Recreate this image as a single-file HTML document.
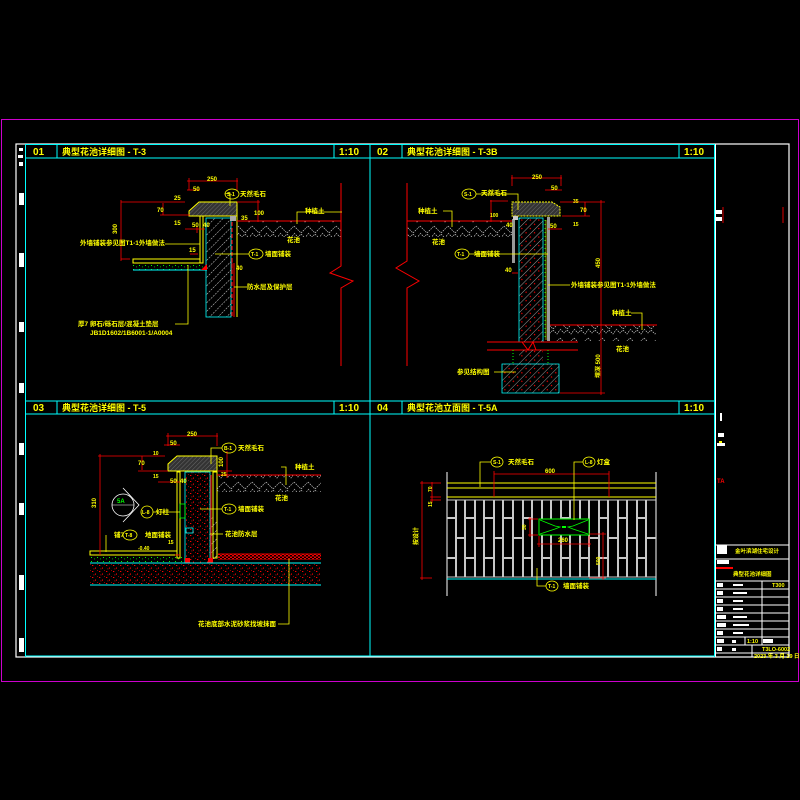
<!DOCTYPE html>
<html><head><meta charset="utf-8">
<style>
html,body{margin:0;padding:0;background:#000;}
svg{display:block;}
text{font-family:"Liberation Sans","Noto Sans CJK SC",sans-serif;font-weight:bold;}
</style></head>
<body>
<svg width="800" height="800" viewBox="0 0 800 800" xmlns="http://www.w3.org/2000/svg">
<defs>
<pattern id="hw" width="6" height="6" patternUnits="userSpaceOnUse" patternTransform="rotate(45)">
<line x1="0" y1="0" x2="0" y2="6" stroke="#fff" stroke-width="0.8" stroke-dasharray="2,1"/></pattern>
<pattern id="hr" width="6" height="6" patternUnits="userSpaceOnUse" patternTransform="rotate(45)">
<line x1="0" y1="0" x2="0" y2="6" stroke="#ddd" stroke-width="0.7"/><rect x="2" y="2" width="1.2" height="1.2" fill="#f00"/></pattern>
<pattern id="hg" width="3" height="3" patternUnits="userSpaceOnUse" patternTransform="rotate(45)">
<rect width="3" height="3" fill="#333"/><line x1="0" y1="0" x2="0" y2="3" stroke="#777" stroke-width="0.8"/></pattern>
<pattern id="soil" width="14" height="16" patternUnits="userSpaceOnUse">
<polyline points="0,2 7,9 14,2" fill="none" stroke="#ccc" stroke-width="0.7" stroke-dasharray="1.5,1"/>
<polyline points="0,9 4,13 7,10 11,14 14,10" fill="none" stroke="#ccc" stroke-width="0.7" stroke-dasharray="1.5,1"/></pattern>
<pattern id="rd" width="7" height="6" patternUnits="userSpaceOnUse">
<rect x="1" y="1" width="1.3" height="1" fill="#f00"/><rect x="4" y="3.5" width="1" height="1.2" fill="#f00"/><rect x="6" y="0" width="0.8" height="0.8" fill="#d00"/><rect x="2.5" y="4.5" width="0.8" height="0.8" fill="#f22"/></pattern>
<pattern id="rd2" width="4" height="3" patternUnits="userSpaceOnUse">
<rect x="0" y="0" width="2" height="1.5" fill="#e00"/><rect x="2" y="1.5" width="2" height="1.5" fill="#e00"/></pattern>
<pattern id="gd" width="6" height="4" patternUnits="userSpaceOnUse">
<rect x="1" y="1" width="1" height="1" fill="#0f0"/><rect x="4" y="2.5" width="1" height="0.8" fill="#0c0"/></pattern>
</defs>

<rect x="1.5" y="119.5" width="797" height="562" fill="none" stroke="#c0c" stroke-width="1"/>
<rect x="16" y="144" width="773" height="513" fill="none" stroke="#fff" stroke-width="1.2"/>
<line x1="25.5" y1="144" x2="25.5" y2="657" stroke="#0ff" stroke-width="1"/>
<line x1="714.5" y1="144" x2="714.5" y2="657" stroke="#0ff" stroke-width="1"/>
<line x1="715.5" y1="144" x2="715.5" y2="657" stroke="#fff" stroke-width="1"/>
<line x1="25" y1="656" x2="714" y2="656" stroke="#0ff" stroke-width="1"/>
<line x1="370" y1="144" x2="370" y2="656" stroke="#0ff" stroke-width="1"/>
<g stroke="#0ff" stroke-width="1" fill="none">
<line x1="25" y1="144.5" x2="714" y2="144.5"/><line x1="25" y1="158" x2="714" y2="158"/>
<line x1="25" y1="401" x2="714" y2="401"/><line x1="25" y1="414" x2="714" y2="414"/>
<line x1="57" y1="144" x2="57" y2="158"/><line x1="334" y1="144" x2="334" y2="158"/>
<line x1="402" y1="144" x2="402" y2="158"/><line x1="679" y1="144" x2="679" y2="158"/>
<line x1="57" y1="401" x2="57" y2="414"/><line x1="334" y1="401" x2="334" y2="414"/>
<line x1="402" y1="401" x2="402" y2="414"/><line x1="679" y1="401" x2="679" y2="414"/>
</g>
<g fill="#ff0" font-size="10">
<text x="33" y="155" font-weight="normal">01</text><text x="62" y="155" font-size="9">典型花池详细图 - T-3</text><text x="339" y="155" font-weight="normal">1:10</text>
<text x="377" y="155" font-weight="normal">02</text><text x="407" y="155" font-size="9">典型花池详细图 - T-3B</text><text x="684" y="155" font-weight="normal">1:10</text>
<text x="33" y="411" font-weight="normal">03</text><text x="62" y="411" font-size="9">典型花池详细图 - T-5</text><text x="339" y="411" font-weight="normal">1:10</text>
<text x="377" y="411" font-weight="normal">04</text><text x="407" y="411" font-size="9">典型花池立面图 - T-5A</text><text x="684" y="411" font-weight="normal">1:10</text>
</g>
<g fill="#fff">
<rect x="19" y="148" width="4" height="3"/><rect x="18" y="155" width="5" height="3"/><rect x="19" y="162" width="4" height="4"/>
<rect x="19" y="193" width="5" height="12"/><rect x="19" y="253" width="5" height="14"/><rect x="19" y="322" width="5" height="10"/>
<rect x="19" y="383" width="5" height="10"/><rect x="19" y="443" width="5" height="12"/><rect x="19" y="503" width="5" height="12"/>
<rect x="19" y="575" width="5" height="15"/><rect x="19" y="638" width="5" height="14"/>
</g>

<!-- PANEL 01 -->
<polygon points="189,211 199,202 237,202 237,216 189,216" fill="url(#hg)" stroke="#ff0" stroke-width="1"/>
<rect x="206" y="218" width="25" height="99" fill="url(#hw)" stroke="#0ff" stroke-width="0.8"/>
<line x1="232" y1="222" x2="232" y2="317" stroke="#f00" stroke-width="1.2" stroke-dasharray="4,2"/>
<line x1="237" y1="216" x2="237" y2="317" stroke="#ff0" stroke-width="1"/>
<line x1="234" y1="263" x2="234" y2="317" stroke="#f00" stroke-width="1"/>
<rect x="200" y="216" width="3" height="47" fill="none" stroke="#ff0" stroke-width="1"/>
<rect x="230" y="216" width="6" height="5" fill="#aaa"/>
<rect x="237" y="221" width="104" height="16" fill="url(#soil)"/>
<line x1="237" y1="221" x2="341" y2="221" stroke="#f00" stroke-width="1"/>
<polyline points="341,183 341,266 330,273 353,281 341,288 341,366" fill="none" stroke="#f00" stroke-width="1"/>
<rect x="133" y="259" width="67" height="4" fill="none" stroke="#ff0" stroke-width="1"/>
<rect x="133" y="264" width="72" height="6" fill="url(#gd)"/>
<line x1="133" y1="270" x2="207" y2="270" stroke="#0ff" stroke-width="1"/>
<polygon points="201,270 207,264 207,270" fill="#f00"/>
<g stroke="#f00" stroke-width="0.8" fill="none">
<line x1="187" y1="181" x2="238" y2="181"/><line x1="189" y1="178" x2="189" y2="190"/><line x1="237" y1="178" x2="237" y2="190"/>
<line x1="187" y1="190" x2="200" y2="190"/>
<line x1="121" y1="202" x2="185" y2="202"/><line x1="121" y1="259" x2="130" y2="259"/><line x1="121" y1="200" x2="121" y2="261"/>
<line x1="163" y1="203" x2="163" y2="215"/><line x1="160" y1="215" x2="190" y2="215"/>
<line x1="185" y1="229" x2="205" y2="229"/><line x1="197" y1="227" x2="197" y2="233"/>
<line x1="237" y1="202" x2="260" y2="202"/><line x1="258" y1="200" x2="258" y2="222"/><line x1="238" y1="221" x2="262" y2="221"/>
<line x1="190" y1="254" x2="198" y2="254"/><line x1="232" y1="262" x2="232" y2="270"/>
</g>
<g fill="#ff0" font-size="6">
<text x="207" y="181">250</text><text x="193" y="191">50</text><text x="174" y="200">25</text><text x="157" y="212">70</text><text x="174" y="225">15</text>
<text x="117" y="234" transform="rotate(-90 117 234)">300</text><text x="192" y="227">50</text><text x="203" y="227">40</text>
<text x="254" y="215">100</text><text x="241" y="220">35</text><text x="189" y="252">15</text><text x="236" y="270">40</text>
</g>
<g stroke="#ff0" stroke-width="0.8" fill="none">
<ellipse cx="232" cy="194" rx="7" ry="5"/><polyline points="225,194 230,193 230,206"/>
<polyline points="342,212 297,212 297,224"/>
<polyline points="165,244 200,244"/>
<ellipse cx="256" cy="254" rx="7" ry="5"/><polyline points="249,254 215,254"/>
<polyline points="234,287 247,287"/>
<polyline points="188,265 188,324 175,324"/>
</g>
<g fill="#ff0" font-size="6.5">
<text x="227" y="196" font-size="5">S-1</text><text x="240" y="196">天然毛石</text>
<text x="305" y="213">种植土</text><text x="287" y="242">花池</text>
<text x="80" y="245">外墙铺装参见图T1-1外墙做法</text>
<text x="251" y="256" font-size="5">T-1</text><text x="265" y="256">墙面铺装</text>
<text x="247" y="289">防水层及保护层</text>
<text x="78" y="326">厚7 卵石/砾石层/混凝土垫层</text>
<text x="90" y="335">JB1D1602/1B6001-1/A0004</text>
</g>

<!-- PANEL 02 -->
<polygon points="512,202 552,202 560,207 560,216 512,216" fill="url(#hg)" stroke="#ff0" stroke-width="1" stroke-dasharray="2,1"/>
<rect x="519" y="218" width="24" height="124" fill="url(#hr)" stroke="#0ff" stroke-width="0.8"/>
<rect x="512" y="219" width="3" height="44" fill="#999"/>
<rect x="547" y="217" width="3" height="124" fill="#999"/>
<line x1="545" y1="220" x2="545" y2="340" stroke="#0f0" stroke-width="1" stroke-dasharray="1,3"/>
<line x1="546" y1="220" x2="546" y2="340" stroke="#ff0" stroke-width="0.6"/>
<rect x="513" y="216" width="5" height="4" fill="#ccc"/>
<rect x="407" y="221" width="105" height="16" fill="url(#soil)"/>
<line x1="407" y1="221" x2="512" y2="221" stroke="#f00" stroke-width="1"/>
<rect x="550" y="325" width="106" height="16" fill="url(#soil)"/>
<line x1="550" y1="325" x2="657" y2="325" stroke="#f00" stroke-width="1"/>
<polyline points="407,183 407,261 396,268 419,281 407,288 407,366" fill="none" stroke="#f00" stroke-width="1"/>
<line x1="487" y1="342" x2="578" y2="342" stroke="#f00" stroke-width="1"/>
<line x1="487" y1="350" x2="578" y2="350" stroke="#f00" stroke-width="1"/>
<polyline points="522,342 528,350 533,342 536,350" fill="none" stroke="#f00" stroke-width="1"/>
<rect x="519" y="350" width="24" height="14" fill="url(#hr)"/>
<line x1="513" y1="350" x2="513" y2="364" stroke="#0f0" stroke-dasharray="1,2"/>
<line x1="548" y1="350" x2="548" y2="364" stroke="#0f0" stroke-dasharray="1,2"/>
<polygon points="519,364 502,364 502,393 559,393 559,364 543,364" fill="url(#hr)" stroke="#0ff" stroke-width="0.8"/>
<g stroke="#f00" stroke-width="0.8" fill="none">
<line x1="511" y1="178" x2="562" y2="178"/><line x1="512" y1="175" x2="512" y2="186"/><line x1="561" y1="175" x2="561" y2="186"/>
<line x1="545" y1="190" x2="562" y2="190"/><line x1="560" y1="202" x2="605" y2="202"/><line x1="601" y1="200" x2="601" y2="395"/>
<line x1="560" y1="393" x2="605" y2="393"/><line x1="585" y1="202" x2="585" y2="216"/><line x1="562" y1="216" x2="590" y2="216"/>
<line x1="490" y1="201" x2="508" y2="201"/><line x1="491" y1="200" x2="491" y2="222"/>
<line x1="500" y1="221" x2="512" y2="221"/><line x1="512" y1="273" x2="518" y2="273"/>
<line x1="548" y1="229" x2="562" y2="229"/>
</g>
<g fill="#ff0" font-size="6">
<text x="532" y="179">250</text><text x="551" y="190">50</text><text x="573" y="203" font-size="5">35</text><text x="580" y="212">70</text>
<text x="573" y="226" font-size="5">15</text><text x="550" y="228">50</text><text x="506" y="227">40</text><text x="490" y="217" font-size="5">100</text>
<text x="505" y="272">40</text><text x="600" y="268" transform="rotate(-90 600 268)">450</text><text x="600" y="378" transform="rotate(-90 600 378)">埋深 500</text>
</g>
<g stroke="#ff0" stroke-width="0.8" fill="none">
<ellipse cx="469" cy="194" rx="7" ry="5"/><polyline points="476,194 518,194 518,210"/>
<polyline points="443,211 452,211 452,227"/>
<ellipse cx="462" cy="254" rx="7" ry="5"/><polyline points="469,254 548,254"/>
<polyline points="548,285 570,285"/>
<polyline points="631,313 642,313 642,330"/>
<polyline points="494,372 516,372"/>
</g>
<g fill="#ff0" font-size="6.5">
<text x="464" y="196" font-size="5">S-1</text><text x="481" y="195">天然毛石</text>
<text x="418" y="213">种植土</text><text x="432" y="244">花池</text>
<text x="457" y="256" font-size="5">T-1</text><text x="474" y="256">墙面铺装</text>
<text x="571" y="287">外墙铺装参见图T1-1外墙做法</text>
<text x="612" y="315">种植土</text><text x="616" y="351">花池</text>
<text x="457" y="374">参见结构图</text>
</g>

<!-- PANEL 03 -->
<polygon points="168,464 177,456 217,456 217,471 168,471" fill="url(#hg)" stroke="#ff0" stroke-width="1"/>
<rect x="185" y="472" width="25" height="91" fill="url(#rd)" stroke="#0ff" stroke-width="0.8"/>
<rect x="177" y="472" width="3" height="86" fill="none" stroke="#ff0" stroke-width="1"/>
<rect x="213" y="472" width="4" height="86" fill="none" stroke="#ff0" stroke-width="1"/>
<rect x="210" y="517" width="7" height="42" fill="url(#hw)"/>
<line x1="211" y1="475" x2="211" y2="560" stroke="#f00" stroke-width="1.2"/>
<rect x="180" y="504" width="5" height="14" fill="none" stroke="#0f0" stroke-width="0.8"/>
<rect x="186" y="528" width="7" height="5" fill="none" stroke="#0ff" stroke-width="0.8"/>
<rect x="217" y="475" width="104" height="17" fill="url(#soil)"/>
<line x1="217" y1="475" x2="321" y2="475" stroke="#f00" stroke-width="1"/>
<rect x="218" y="554" width="103" height="6" fill="url(#rd2)"/>
<line x1="218" y1="554" x2="321" y2="554" stroke="#e00" stroke-width="1"/>
<rect x="90" y="551" width="87" height="4" fill="none" stroke="#ff0" stroke-width="1"/>
<rect x="90" y="556" width="95" height="7" fill="url(#gd)"/>
<rect x="185" y="558" width="5" height="5" fill="#f00"/><rect x="208" y="558" width="5" height="5" fill="#f00"/>
<line x1="90" y1="563" x2="321" y2="563" stroke="#0ff" stroke-width="1"/>
<rect x="90" y="564" width="231" height="21" fill="url(#rd)"/>
<line x1="90" y1="585" x2="321" y2="585" stroke="#0ff" stroke-width="1"/>
<circle cx="123" cy="505" r="11" fill="none" stroke="#fff" stroke-width="0.8"/>
<polyline points="123,488 139,505 123,522" fill="none" stroke="#fff" stroke-width="0.8"/>
<line x1="112" y1="505" x2="134" y2="505" stroke="#fff" stroke-width="0.6"/>
<text x="117" y="503" fill="#0f0" font-size="6">5A</text>
<g stroke="#f00" stroke-width="0.8" fill="none">
<line x1="166" y1="436" x2="218" y2="436"/><line x1="168" y1="433" x2="168" y2="446"/><line x1="217" y1="433" x2="217" y2="446"/>
<line x1="164" y1="445" x2="180" y2="445"/>
<line x1="98" y1="456" x2="165" y2="456"/><line x1="100" y1="454" x2="100" y2="555"/>
<line x1="142" y1="456" x2="142" y2="470"/><line x1="138" y1="471" x2="168" y2="471"/>
<line x1="158" y1="482" x2="180" y2="482"/><line x1="227" y1="451" x2="227" y2="478"/><line x1="218" y1="471" x2="232" y2="471"/>
<line x1="175" y1="555" x2="180" y2="555"/>
</g>
<g fill="#ff0" font-size="6">
<text x="187" y="436">250</text><text x="170" y="445">50</text><text x="153" y="455" font-size="5">10</text><text x="138" y="465">70</text>
<text x="153" y="478" font-size="5">15</text><text x="170" y="483">50</text><text x="180" y="483">40</text>
<text x="96" y="508" transform="rotate(-90 96 508)">310</text><text x="223" y="467" transform="rotate(-90 223 467)">100</text><text x="221" y="476" font-size="5">25</text>
<text x="168" y="544" font-size="5">15</text><text x="138" y="550" font-size="5">-0.40</text>
</g>
<g stroke="#ff0" stroke-width="0.8" fill="none">
<ellipse cx="229" cy="448" rx="7" ry="5"/><polyline points="222,448 211,448 211,464"/>
<polyline points="281,467 286,467 286,485"/>
<ellipse cx="147" cy="512" rx="6" ry="6"/><polyline points="153,512 180,512"/>
<ellipse cx="229" cy="509" rx="7" ry="5"/><polyline points="222,509 200,509"/>
<polyline points="210,534 223,534"/>
<polyline points="106,535 106,552"/><ellipse cx="130" cy="535" rx="7" ry="5"/>
<polyline points="289,559 289,624 278,624"/>
</g>
<g fill="#ff0" font-size="6.5">
<text x="224" y="450" font-size="5">B-1</text><text x="238" y="450">天然毛石</text>
<text x="295" y="469">种植土</text><text x="275" y="500">花池</text>
<text x="142" y="514" font-size="5">L-8</text><text x="156" y="514">灯柱</text>
<text x="224" y="511" font-size="5">T-1</text><text x="238" y="511">墙面铺装</text>
<text x="225" y="536">花池防水层</text>
<text x="114" y="537">铺7</text><text x="125" y="537" font-size="5">T-8</text><text x="145" y="537">地面铺装</text>
<text x="198" y="626">花池底部水泥砂浆找坡抹面</text>
</g>

<!-- PANEL 04 -->
<line x1="447" y1="472" x2="447" y2="596" stroke="#fff" stroke-width="1"/>
<line x1="656" y1="472" x2="656" y2="596" stroke="#fff" stroke-width="1"/>
<g stroke="#ff0" stroke-width="1">
<line x1="447" y1="483" x2="656" y2="483"/><line x1="447" y1="488" x2="656" y2="488"/><line x1="447" y1="497" x2="656" y2="497"/>
</g>
<line x1="447" y1="500" x2="656" y2="500" stroke="#ccc" stroke-width="1"/>
<g fill="#c8c8c8">
<rect x="455" y="500" width="2" height="77"/><rect x="464" y="500" width="2" height="77"/><rect x="474" y="500" width="2" height="77"/>
<rect x="483" y="500" width="2" height="77"/><rect x="493" y="500" width="2" height="77"/><rect x="502" y="500" width="2" height="77"/>
<rect x="512" y="500" width="2" height="77"/><rect x="522" y="500" width="2" height="77"/><rect x="531" y="500" width="2" height="77"/>
<rect x="541" y="500" width="2" height="77"/><rect x="550" y="500" width="2" height="77"/><rect x="560" y="500" width="2" height="77"/>
<rect x="569" y="500" width="2" height="77"/><rect x="579" y="500" width="2" height="77"/><rect x="588" y="500" width="2" height="77"/>
<rect x="598" y="500" width="2" height="77"/><rect x="607" y="500" width="2" height="77"/><rect x="617" y="500" width="2" height="77"/>
<rect x="626" y="500" width="2" height="77"/><rect x="636" y="500" width="2" height="77"/><rect x="645" y="500" width="2" height="77"/>
<rect x="447" y="517" width="10" height="2"/><rect x="466" y="517" width="10" height="2"/><rect x="485" y="517" width="10" height="2"/><rect x="504" y="517" width="10" height="2"/><rect x="524" y="517" width="9" height="2"/><rect x="562" y="517" width="9" height="2"/><rect x="600" y="517" width="9" height="2"/><rect x="619" y="517" width="9" height="2"/><rect x="638" y="517" width="9" height="2"/>
<rect x="457" y="537" width="9" height="2"/><rect x="476" y="537" width="9" height="2"/><rect x="495" y="537" width="9" height="2"/><rect x="514" y="537" width="9" height="2"/><rect x="590" y="537" width="9" height="2"/><rect x="609" y="537" width="9" height="2"/><rect x="628" y="537" width="9" height="2"/><rect x="647" y="537" width="9" height="2"/>
<rect x="447" y="557" width="10" height="2"/><rect x="466" y="557" width="10" height="2"/><rect x="485" y="557" width="10" height="2"/><rect x="504" y="557" width="10" height="2"/><rect x="524" y="557" width="9" height="2"/><rect x="543" y="557" width="9" height="2"/><rect x="562" y="557" width="9" height="2"/><rect x="581" y="557" width="9" height="2"/><rect x="600" y="557" width="9" height="2"/><rect x="619" y="557" width="9" height="2"/><rect x="638" y="557" width="9" height="2"/>
</g>
<line x1="447" y1="577" x2="656" y2="577" stroke="#ccc" stroke-width="1"/>
<line x1="447" y1="579" x2="656" y2="579" stroke="#0ff" stroke-width="1"/>
<rect x="539" y="519" width="50" height="16" fill="#000" stroke="#0f0" stroke-width="1"/>
<polyline points="540,520 555,526 560,527 555,529 540,534" fill="none" stroke="#0f0" stroke-width="0.8"/>
<polyline points="588,520 573,526 568,527 573,529 588,534" fill="none" stroke="#0f0" stroke-width="0.8"/>
<rect x="562" y="526" width="4" height="2" fill="#0f0"/>
<g stroke="#f00" stroke-width="0.8" fill="none">
<line x1="494" y1="474" x2="609" y2="474"/><line x1="494" y1="471" x2="494" y2="497"/><line x1="609" y1="471" x2="609" y2="497"/>
<line x1="420" y1="483" x2="441" y2="483"/><line x1="422" y1="481" x2="422" y2="580"/><line x1="420" y1="578" x2="432" y2="578"/>
<line x1="432" y1="482" x2="432" y2="503"/><line x1="430" y1="497" x2="441" y2="497"/><line x1="430" y1="500" x2="441" y2="500"/>
<line x1="528" y1="519" x2="538" y2="519"/><line x1="528" y1="535" x2="538" y2="535"/><line x1="530" y1="517" x2="530" y2="537"/>
<line x1="537" y1="544" x2="591" y2="544"/><line x1="539" y1="536" x2="539" y2="547"/><line x1="589" y1="536" x2="589" y2="547"/>
<line x1="589" y1="534" x2="606" y2="534"/><line x1="603" y1="532" x2="603" y2="580"/><line x1="589" y1="578" x2="606" y2="578"/>
</g>
<g fill="#ff0" font-size="6">
<text x="545" y="473">600</text><text x="558" y="542">260</text>
<text x="432" y="492" transform="rotate(-90 432 492)" font-size="5">70</text><text x="432" y="507" transform="rotate(-90 432 507)" font-size="5">15</text>
<text x="526" y="530" transform="rotate(-90 526 530)" font-size="5">30</text>
<text x="418" y="545" transform="rotate(-90 418 545)">按设计</text>
<text x="600" y="565" transform="rotate(-90 600 565)" font-size="5">500</text>
</g>
<g stroke="#ff0" stroke-width="0.8" fill="none">
<ellipse cx="497" cy="462" rx="6" ry="5"/><polyline points="491,462 480,462 480,487"/>
<ellipse cx="589" cy="462" rx="6" ry="5"/><polyline points="583,462 574,462 574,520"/>
<polyline points="537,568 537,586 546,586"/><ellipse cx="552" cy="586" rx="6" ry="5"/>
</g>
<g fill="#ff0" font-size="6.5">
<text x="493" y="464" font-size="5">S-1</text><text x="508" y="464">天然毛石</text>
<text x="585" y="464" font-size="5">L-8</text><text x="597" y="464">灯盒</text>
<text x="548" y="588" font-size="5">T-1</text><text x="563" y="588">墙面铺装</text>
</g>

<!-- TITLE BLOCK -->
<line x1="723" y1="207" x2="723" y2="223" stroke="#d00" stroke-width="1"/>
<line x1="783" y1="207" x2="783" y2="223" stroke="#d00" stroke-width="1"/>
<rect x="716" y="210" width="6" height="4" fill="#fff"/><rect x="716" y="217" width="6" height="4" fill="#fff"/>
<g fill="#fff"><rect x="720" y="413" width="2" height="8"/><rect x="718" y="433" width="6" height="4"/><rect x="717" y="443" width="8" height="3"/></g>
<rect x="719" y="441" width="3" height="2" fill="#ff0"/>
<text x="717" y="483" fill="#f00" font-size="6">TA</text>
<g stroke="#fff" stroke-width="1">
<line x1="715" y1="545" x2="789" y2="545"/><line x1="715" y1="559" x2="789" y2="559"/>
<line x1="715" y1="581" x2="789" y2="581"/><line x1="715" y1="589" x2="789" y2="589"/>
<line x1="715" y1="597" x2="789" y2="597"/><line x1="715" y1="605" x2="789" y2="605"/>
<line x1="715" y1="613" x2="789" y2="613"/><line x1="715" y1="621" x2="789" y2="621"/>
<line x1="715" y1="629" x2="789" y2="629"/><line x1="715" y1="637" x2="789" y2="637"/>
<line x1="715" y1="645" x2="789" y2="645"/><line x1="715" y1="653" x2="789" y2="653"/>
<line x1="762" y1="581" x2="762" y2="637"/><line x1="745" y1="637" x2="745" y2="645"/><line x1="752" y1="645" x2="752" y2="657"/><line x1="762" y1="637" x2="762" y2="645"/>
</g>
<g fill="#fff">
<rect x="717" y="545" width="10" height="9"/><rect x="717" y="560" width="12" height="4"/>
<rect x="717" y="583" width="6" height="4"/><rect x="717" y="591" width="6" height="4"/><rect x="717" y="599" width="6" height="4"/>
<rect x="717" y="607" width="6" height="4"/><rect x="717" y="615" width="9" height="4"/><rect x="717" y="623" width="9" height="4"/>
<rect x="717" y="631" width="6" height="4"/><rect x="717" y="639" width="7" height="4"/><rect x="717" y="647" width="5" height="4"/>
<rect x="733" y="584" width="10" height="2"/><rect x="733" y="592" width="14" height="2"/><rect x="733" y="600" width="10" height="2"/>
<rect x="733" y="608" width="10" height="2"/><rect x="733" y="616" width="14" height="2"/><rect x="733" y="624" width="16" height="2"/>
<rect x="733" y="632" width="10" height="2"/><rect x="732" y="640" width="4" height="3"/><rect x="732" y="648" width="4" height="3"/>
<rect x="763" y="639" width="10" height="4"/>
</g>
<rect x="716" y="567" width="17" height="2" fill="#f00"/>
<g fill="#ff0" font-size="5.5">
<text x="735" y="553">金叶滨湖住宅设计</text>
<text x="733" y="576">典型花池详细图</text>
<text x="772" y="587">T300</text>
<text x="747" y="643">1:10</text>
<text x="762" y="651">T3LO-6002</text>
<text x="754" y="658">2023 年 3 月 19 日</text>
</g>
</svg>
</body></html>
